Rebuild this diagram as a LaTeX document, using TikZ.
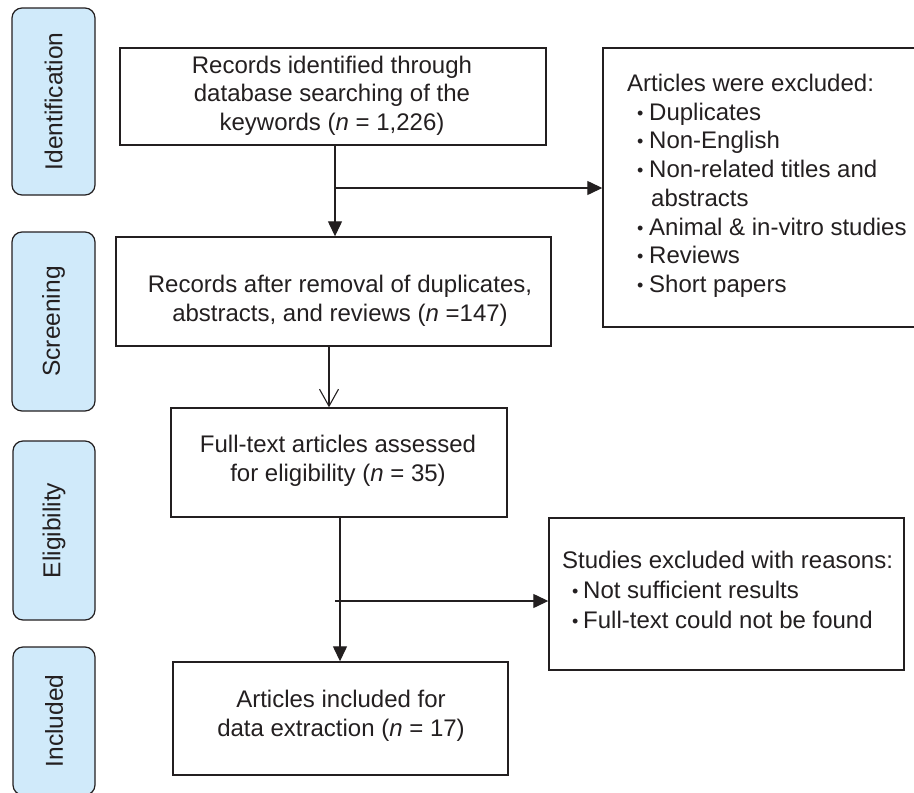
\documentclass[tikz,border=0pt]{standalone}
\usepackage{fontspec}
\setmainfont{Liberation Sans}
\usetikzlibrary{arrows.meta}
\definecolor{ink}{RGB}{35,31,32}
\definecolor{phasefill}{RGB}{208,234,250}
\newcommand{\smbul}{\raisebox{1pt}{\fontsize{18}{18}\selectfont •}}
\newcommand{\bitem}[1]{\hspace*{10pt}\makebox[12pt][l]{\smbul}#1}
\newcommand{\citem}[1]{\hspace*{10pt}\makebox[11pt][l]{\smbul}#1}
\begin{document}
\begin{tikzpicture}[x=1pt,y=-1pt,
  box/.style={draw=ink, line width=1.4pt, rectangle, inner sep=0pt},
  phase/.style={draw=ink, fill=phasefill, line width=1.2pt, rounded corners=10pt, inner sep=0pt, text=ink, font=\fontsize{24.5}{28.5}\selectfont},
  txt/.style={inner sep=0pt, align=center, text=ink, font=\fontsize{24}{28.5}\selectfont},
  ltxt/.style={inner sep=0pt, align=left, anchor=north west, text=ink, font=\fontsize{24}{28.7}\selectfont},
  arr/.style={draw=ink, line width=1.3pt, -{Triangle[length=15pt,width=14pt]}},
  openarr/.style={draw=ink, line width=1.1pt, -{Straight Barb[length=17pt,width=19pt]}}
]
\useasboundingbox (0,0) rectangle (914,793);
% phase labels
\node[phase, rotate=90, minimum width=187pt, minimum height=83pt] (p1) at (53.5,101.5) {Identification};
\node[phase, rotate=90, minimum width=179pt, minimum height=83pt] (p2) at (53.5,321.5) {Screening};
\node[phase, rotate=90, minimum width=179pt, minimum height=82pt] (p3) at (54,530.5) {Eligibility};
\node[phase, rotate=90, minimum width=148pt, minimum height=82pt] (p4) at (54,721) {Included};
% boxes
\node[box, minimum width=426pt, minimum height=97pt] (b1) at (333,96.5) {};
\node[txt] (t1) at (332,95.5) {Records identified through\\database searching of the\\keywords (\textit{n} = 1,226)};
\node[box, minimum width=435pt, minimum height=109pt] (b2) at (333.5,291.5) {};
\node[txt] (t2) at (340,301) {Records after removal of duplicates,\\abstracts, and reviews (\textit{n} =147)};
\node[box, minimum width=336pt, minimum height=109pt] (b3) at (339,462.5) {};
\node[txt] (t3) at (338,461) {Full-text articles assessed\\for eligibility (\textit{n} = 35)};
\node[box, minimum width=335pt, minimum height=113pt] (b4) at (340.5,718.5) {};
\node[txt] (t4) at (341,716) {Articles included for\\data extraction (\textit{n} = 17)};
\node[box, minimum width=317pt, minimum height=279pt] (b6) at (761.5,187.5) {};
\node[ltxt] (t6) at (627,74) {Articles were excluded:\\\bitem{Duplicates}\\\bitem{Non-English}\\\bitem{Non-related titles and}\\\hspace*{24pt}abstracts\\\bitem{Animal \& in-vitro studies}\\\bitem{Reviews}\\\bitem{Short papers}};
\node[box, minimum width=355pt, minimum height=152pt] (b5) at (726.5,594) {};
\node[ltxt, font=\fontsize{24}{30}\selectfont] (t5) at (562,551) {Studies excluded with reasons:\\\citem{Not sufficient results}\\\citem{Full-text could not be found}};
% connectors
\coordinate (j1) at (335,188);
\coordinate (j2) at (335,601);
\draw[arr] ([xshift=2pt]b1.south) -- ([xshift=2pt]b1.south |- b2.north);
\draw[arr] (j1) -- (j1 -| b6.west);
\draw[openarr] ([xshift=-4.5pt]b2.south) -- ([xshift=-4.5pt]b2.south |- b3.north);
\draw[arr] ([xshift=1pt]b3.south) -- ([xshift=1pt]b3.south |- b4.north);
\draw[arr] (j2) -- (j2 -| b5.west);
\end{tikzpicture}
\end{document}
